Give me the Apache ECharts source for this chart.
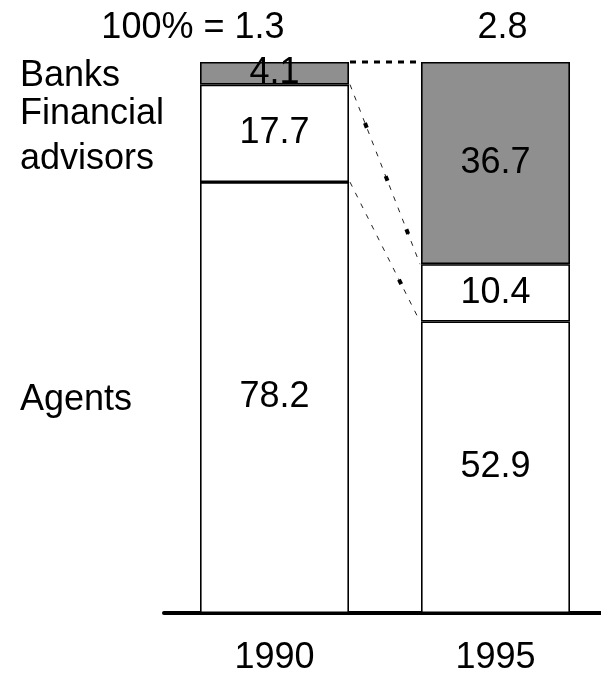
<!DOCTYPE html>
<html>
<head>
<meta charset="utf-8">
<script src="https://cdn.jsdelivr.net/npm/echarts@6/dist/echarts.min.js"></script>
<style>
  html, body { margin: 0; padding: 0; background: #fff; }
  #chart { width: 601px; height: 674px; }
</style>
</head>
<body>
<div id="chart"></div>
<script>
// data (shares in %)
const years = ['1990', '1995'];
const agents = [78.2, 52.9];
const advisors = [17.7, 10.4];
const banks = [4.1, 36.7];
const totals = ['100% = 1.3', '2.8'];
const segmentNames = ['Agents', 'Financial\nadvisors', 'Banks'];

const FONT = '"Liberation Sans", Arial, sans-serif';
const BAR_W = 149;
const GRAY = '#8f8f8f';

// stacked tops of each segment, per year
const tops = years.map((y, i) => ({
  agents: agents[i],
  advisors: agents[i] + advisors[i],
  banks: agents[i] + advisors[i] + banks[i]
}));

// connectors between the two bars: [from value, to value, style]
const connectors = [
  [tops[0].banks, tops[1].banks, 0],
  [tops[0].advisors, tops[1].advisors, 1],
  [tops[0].agents, tops[1].agents, 2]
];

// left labels sit at the middle of each 1990 segment
const leftLabels = [
  [agents[0] / 2, 0],
  [agents[0] + advisors[0] / 2, 1],
  [tops[0].advisors + banks[0] / 2, 2]
];

const chart = echarts.init(document.getElementById('chart'));

function barSeries(name, values, color) {
  return {
    name: name,
    type: 'bar',
    stack: 'total',
    barWidth: BAR_W,
    data: values,
    itemStyle: { color: color, borderColor: '#000', borderWidth: 1.6 },
    label: {
      show: true,
      position: 'inside',
      formatter: '{c}',
      fontSize: 36,
      fontFamily: FONT,
      color: '#000'
    },
    silent: true
  };
}

chart.setOption({
  animation: false,
  backgroundColor: '#fff',
  grid: { left: 164, width: 442, top: 62, bottom: 61, containLabel: false, outerBoundsMode: 'none' },
  xAxis: {
    type: 'category',
    data: years,
    axisLine: { lineStyle: { color: '#000', width: 4 } },
    axisTick: { show: false },
    axisLabel: { fontSize: 36, fontFamily: FONT, color: '#000', margin: 27 }
  },
  yAxis: {
    type: 'value',
    min: 0,
    max: 100,
    show: false,
    splitLine: { show: false }
  },
  series: [
    barSeries('Agents', agents, '#fff'),
    barSeries('Financial advisors', advisors, '#fff'),
    barSeries('Banks', banks, GRAY),
    {
      type: 'custom',
      silent: true,
      data: connectors,
      renderItem: function (params, api) {
        const p0 = api.coord([0, api.value(0)]);
        const p1 = api.coord([1, api.value(1)]);
        const kind = api.value(2);
        const shape = { x1: p0[0] + BAR_W / 2 + 1, y1: p0[1], x2: p1[0] - BAR_W / 2 - 1, y2: p1[1] };
        if (kind === 0) {
          return {
            type: 'line', shape: shape,
            style: { stroke: '#000', lineWidth: 3, lineDash: [6, 6] }
          };
        }
        const len = Math.hypot(shape.x2 - shape.x1, shape.y2 - shape.y1);
        const thin = {
          type: 'line', shape: shape,
          style: { stroke: '#222', lineWidth: 1, lineDash: [5, 7] }
        };
        // sparse heavy dots laid over the thin dashes
        const dots = kind === 1
          ? { type: 'line', shape: shape, style: { stroke: '#000', lineWidth: 4, lineDash: [5, 52], lineDashOffset: 57 - len * 0.214 } }
          : { type: 'line', shape: shape, style: { stroke: '#000', lineWidth: 4, lineDash: [5, 250], lineDashOffset: 255 - len * 0.70 } };
        return { type: 'group', children: [thin, dots] };
      },
      z: 5
    },
    {
      type: 'custom',
      silent: true,
      data: leftLabels,
      renderItem: function (params, api) {
        const p = api.coord([0, api.value(0)]);
        return {
          type: 'text',
          x: 20,
          y: p[1] + 3,
          style: {
            text: segmentNames[api.value(1)],
            fontSize: 36,
            fontFamily: FONT,
            fill: '#000',
            lineHeight: 45,
            align: 'left',
            verticalAlign: 'middle'
          }
        };
      }
    },
    {
      type: 'custom',
      silent: true,
      data: years.map((y, i) => [i, 100]),
      renderItem: function (params, api) {
        const i = api.value(0);
        const p = api.coord([i, api.value(1)]);
        return {
          type: 'text',
          x: i === 0 ? p[0] + 10 : p[0] + 7,
          y: p[1] - 34,
          style: {
            text: totals[i],
            fontSize: 36,
            fontFamily: FONT,
            fill: '#000',
            align: i === 0 ? 'right' : 'center',
            verticalAlign: 'middle'
          }
        };
      }
    }
  ]
});
</script>
</body>
</html>
